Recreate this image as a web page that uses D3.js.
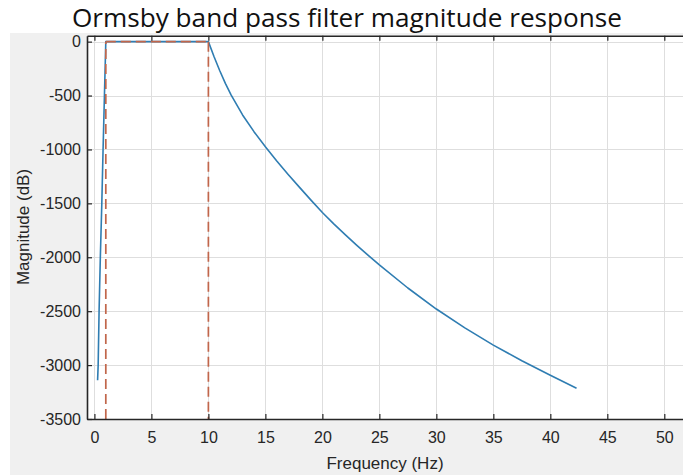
<!DOCTYPE html>
<html>
<head>
<meta charset="utf-8">
<script src="https://cdn.jsdelivr.net/npm/d3@7/dist/d3.min.js"></script>
<style>
  html, body { margin: 0; padding: 0; background: #ffffff; }
  svg { display: block; }
  .tick text { font-family: "Liberation Sans", Arial, sans-serif; }
</style>
</head>
<body>
<svg id="chart" width="683" height="475"></svg>
<script>
// Filter corner frequencies (Hz) of the Ormsby pass band
const cornerLow = 1;
const cornerHigh = 10;

// Magnitude response samples: frequency (Hz) and magnitude (dB)
const freqHz = [
  0.28, 0.33, 0.41, 0.52, 0.65, 0.76, 0.88, 1.0,
  10, 10.5, 11, 11.5, 12, 13, 14, 15, 16, 17, 18, 19, 20,
  21, 22, 23, 24, 25, 27.5, 30, 32.5, 35, 37.5, 40, 42.3
];
const magnitudeDb = [
  -3140, -3000, -2500, -2000, -1500, -1000, -500, 0,
  0, -140, -270, -390, -497, -680, -835, -975, -1107, -1232, -1352, -1470, -1585,
  -1690, -1790, -1887, -1980, -2070, -2285, -2480, -2655, -2815, -2960, -3095, -3215
];

// Axis ticks
const xTicks = [0, 5, 10, 15, 20, 25, 30, 35, 40, 45, 50];
const yTicks = [0, -500, -1000, -1500, -2000, -2500, -3000, -3500];

const svg = d3.select("#chart");
const W = 683, H = 475;

// figure background
svg.append("rect").attr("x", 0).attr("y", 0).attr("width", W).attr("height", H).attr("fill", "#ffffff");
svg.append("rect").attr("x", 10).attr("y", 33).attr("width", W - 10).attr("height", H - 33).attr("fill", "#f0f0f0");

const plotLeft = 87, plotTop = 35.7, plotBottom = 419;
const x = d3.scaleLinear().domain([-0.65, 52.5]).range([plotLeft, 692.8]);
const y = d3.scaleLinear().domain([-3500, 55]).range([plotBottom, plotTop]);

// plotting area
svg.append("rect").attr("x", plotLeft).attr("y", plotTop).attr("width", W - plotLeft + 20).attr("height", plotBottom - plotTop).attr("fill", "#ffffff");

// grid
const grid = svg.append("g").attr("stroke", "#dedede").attr("stroke-width", 1);
grid.selectAll(".vg").data(xTicks).join("line")
  .attr("x1", d => Math.round(x(d)) + 0.5).attr("x2", d => Math.round(x(d)) + 0.5)
  .attr("y1", plotTop).attr("y2", plotBottom);
grid.selectAll(".hg").data(yTicks).join("line")
  .attr("y1", d => Math.round(y(d)) + 0.5).attr("y2", d => Math.round(y(d)) + 0.5)
  .attr("x1", plotLeft).attr("x2", W + 20);

// response curve
const line = d3.line().x((d, i) => x(freqHz[i])).y(d => y(d)).curve(d3.curveLinear);
svg.append("path")
  .attr("d", line(magnitudeDb))
  .attr("fill", "none")
  .attr("stroke", "#2f7db2")
  .attr("stroke-width", 1.6)
  .attr("stroke-linejoin", "round");

// pass band corners (dashed)
const dashed = svg.append("g")
  .attr("fill", "none")
  .attr("stroke", "#c1664b")
  .attr("stroke-width", 1.7)
  .attr("stroke-dasharray", "10,5");
dashed.append("path").attr("d", d3.line()([[x(cornerLow), y(-3500)], [x(cornerLow), y(0)]]));
dashed.append("path").attr("d", d3.line()([[x(cornerLow), y(0)], [x(cornerHigh), y(0)]]));
dashed.append("path").attr("d", d3.line()([[x(cornerHigh), y(0)], [x(cornerHigh), y(-3500)]]));

// axes
const axisColor = "#262626";
const plainNumber = d => String(d);
function styleAxis(g) {
  g.select(".domain").attr("stroke", axisColor).attr("stroke-width", 1.6);
  g.selectAll(".tick line").attr("stroke", axisColor).attr("stroke-width", 1.2);
  g.selectAll(".tick text").attr("fill", axisColor).attr("font-size", 16);
}

svg.append("g")
  .attr("transform", `translate(0,${plotBottom})`)
  .call(d3.axisBottom(x).tickValues(xTicks).tickFormat(plainNumber).tickSize(-5).tickSizeOuter(0).tickPadding(13))
  .call(styleAxis);

svg.append("g")
  .attr("transform", `translate(0,${plotTop})`)
  .call(d3.axisTop(x).tickValues(xTicks).tickSize(-5).tickSizeOuter(0).tickFormat(""))
  .call(styleAxis);

svg.append("g")
  .attr("transform", `translate(${plotLeft},0)`)
  .call(d3.axisLeft(y).tickValues(yTicks).tickFormat(plainNumber).tickSize(-5).tickSizeOuter(0).tickPadding(6))
  .call(styleAxis);

// labels
svg.append("text")
  .attr("x", 385).attr("y", 469)
  .attr("text-anchor", "middle")
  .attr("font-family", "Liberation Sans, Arial, sans-serif")
  .attr("font-size", 17)
  .attr("fill", axisColor)
  .text("Frequency (Hz)");

svg.append("text")
  .attr("transform", "translate(29,227) rotate(-90)")
  .attr("text-anchor", "middle")
  .attr("font-family", "Liberation Sans, Arial, sans-serif")
  .attr("font-size", 17)
  .attr("fill", axisColor)
  .text("Magnitude (dB)");

svg.append("text")
  .attr("x", 347).attr("y", 27)
  .attr("text-anchor", "middle")
  .attr("font-family", "Open Sans, Lato, sans-serif")
  .attr("font-size", 25)
  .attr("textLength", 550)
  .attr("lengthAdjust", "spacingAndGlyphs")
  .attr("fill", "#111111")
  .text("Ormsby band pass filter magnitude response");
</script>
</body>
</html>
